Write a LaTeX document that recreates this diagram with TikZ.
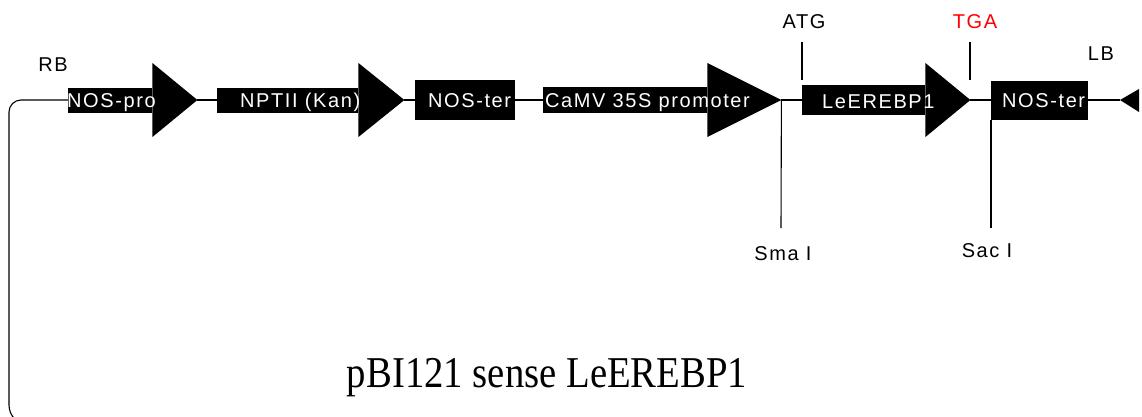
\documentclass[tikz,border=0pt]{standalone}
\usepackage{fontspec}
\newfontfamily\labelfont{Liberation Sans}[LetterSpace=8]
\newfontfamily\titlefont{Liberation Serif}
\definecolor{stopred}{RGB}{255,0,0}

\begin{document}
\begin{tikzpicture}[x=1pt,y=-1pt,
  wire/.style={line width=1.1pt},
  body/.style={fill=black, draw=none, inner sep=0pt, anchor=west},
  lbl/.style={text=white, font=\labelfont\fontsize{20}{20}\selectfont, inner sep=0pt, anchor=base west},
  tag/.style={font=\labelfont\fontsize{20}{20}\selectfont, inner sep=0pt, anchor=base},
  head/.style={fill=black}]
\useasboundingbox (0,0) rectangle (1142,416);

% vector backbone, returning on the left
\draw[wire] (68,100) [rounded corners=12pt] -- (9,100) -- (9,300)
  [rounded corners=20pt] -- (9,425) -- (60,425);

% transcription units (body + arrow head)
\node[body, minimum width=84pt, minimum height=25pt] (nospro) at (68,100) {};
\fill[head] (nospro.east) ++(0,-37) -- ++(45,37) coordinate (nospro-tip) -- ++(-45,37) -- cycle;
\node[lbl] (nospro-lbl) at (67,107) {NOS-pro};

\node[body, minimum width=141pt, minimum height=25pt] (nptii) at (217,100) {};
\fill[head] (nptii.east) ++(0,-37) -- ++(46,37) coordinate (nptii-tip) -- ++(-46,37) -- cycle;
\node[lbl] (nptii-lbl) at (240,107) {NPTII (Kan)};

\node[body, minimum width=100pt, minimum height=40pt] (noster1) at (415,100) {};
\node[lbl] (noster1-lbl) at (428,107) {NOS-ter};

\node[body, minimum width=164pt, minimum height=26pt] (camv) at (543,100) {};
\fill[head] (camv.east) ++(0,-37) -- ++(74,37) coordinate (camv-tip) -- ++(-74,37) -- cycle;
\node[lbl] (camv-lbl) at (545,107) {CaMV 35S promoter};

\node[body, minimum width=123pt, minimum height=30pt] (lerebp) at (802,100) {};
\fill[head] (lerebp.east) ++(0,-37) -- ++(45,37) coordinate (lerebp-tip) -- ++(-45,37) -- cycle;
\node[lbl] (lerebp-lbl) at (822,108) {LeEREBP1};

\node[body, minimum width=97pt, minimum height=39pt] (noster2) at (991,100) {};
\node[lbl] (noster2-lbl) at (1002,107) {NOS-ter};

% left border
\coordinate (lb-tip) at (1120,100);
\fill[head] (lb-tip) -- (1139,89) -- (1139,112) -- cycle;

% backbone links
\draw[wire] (nospro-tip) -- (nptii.west);
\draw[wire] (nptii-tip) -- (noster1.west);
\draw[wire] (noster1.east) -- (camv.west);
\draw[wire] (camv-tip) -- (lerebp.west);
\draw[wire] (lerebp-tip) -- (noster2.west);
\draw[wire] (noster2.east) -- (lb-tip);

% start / stop codons
\node[tag] (atg) at (804,28) {ATG};
\node[tag, text=stopred] (tga) at (975,28) {TGA};
\coordinate (atg-top) at (802,42);
\coordinate (atg-end) at (802,80);
\coordinate (tga-top) at (970,42);
\coordinate (tga-end) at (970,80);
\draw[wire] (atg-top) -- (atg-end);
\draw[wire] (tga-top) -- (tga-end);

% restriction sites
\coordinate (sma-end) at (781,228);
\coordinate (sac-end) at (991,228);
\draw[wire] (camv-tip) -- (sma-end);
\draw[wire] (noster2.south west) -- (sac-end);
\node[tag] (sma) at (783,260) {Sma I};
\node[tag] (sac) at (987,257) {Sac I};

% borders
\node[tag] (rb) at (53,71) {RB};
\node[tag] (lb) at (1101,60) {LB};

% construct name
\node[anchor=base, inner sep=0pt] (title) at (547,387)
  {\scalebox{0.88}[1]{\titlefont\fontsize{44}{44}\selectfont pBI121 sense LeEREBP1}};
\end{tikzpicture}
\end{document}
